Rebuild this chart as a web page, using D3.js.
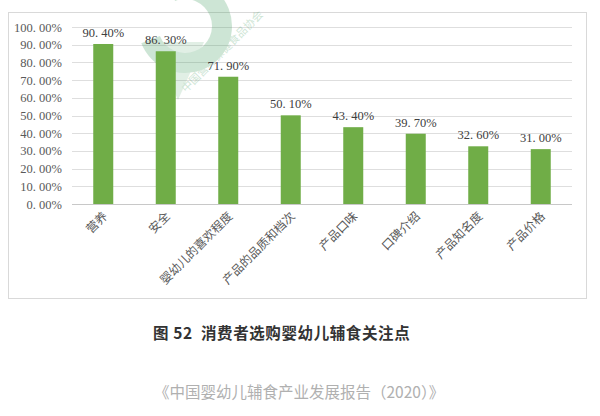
<!DOCTYPE html>
<html><head><meta charset="utf-8">
<script src="https://cdn.jsdelivr.net/npm/d3@7/dist/d3.min.js"></script>
<style>body{margin:0;background:#fff;}svg{display:block;}</style>
</head><body>
<svg id="c" width="600" height="416"></svg>
<script>
const categories = ["营养","安全","婴幼儿的喜欢程度","产品的品质和档次","产品口味","口碑介绍","产品知名度","产品价格"];
const values = [90.4, 86.3, 71.9, 50.1, 43.4, 39.7, 32.6, 31.0];
const yTicks = [0,10,20,30,40,50,60,70,80,90,100];
const title = "图 52  消费者选购婴幼儿辅食关注点";
const source = "《中国婴幼儿辅食产业发展报告（2020）》";

const svg = d3.select("#c");
const serif = "'Liberation Serif','DejaVu Serif',serif";
const cjk = "'Noto Sans CJK SC','Noto Sans',sans-serif";
const fmt = v => d3.format(".2f")(v).replace(".", ". ") + "%";

// outer border
svg.append("rect").attr("x",8.5).attr("y",12.5).attr("width",578).attr("height",286)
  .attr("fill","none").attr("stroke","#d9d9d9");

const m = {l:72, r:572, t:27, b:204};
const x = d3.scaleBand().domain(categories).range([m.l, m.r]).paddingInner(0.68).paddingOuter(0.34);
const y = d3.scaleLinear().domain([0,100]).range([m.b, m.t]);

// gridlines
svg.append("g").selectAll("line").data(yTicks).join("line")
  .attr("x1",m.l).attr("x2",m.r)
  .attr("y1",d=>Math.round(y(d))+0.5).attr("y2",d=>Math.round(y(d))+0.5)
  .attr("stroke",d=>d===0?"#c8c8c8":"#dedede").attr("stroke-width",1);

// y axis labels
const yAxis = d3.axisLeft(y).tickValues(yTicks).tickSize(0).tickPadding(10).tickFormat(fmt);
const ga = svg.append("g").attr("transform",`translate(${m.l},0)`).call(yAxis);
ga.select(".domain").remove();
ga.selectAll("text").attr("font-family",serif).attr("font-size",12.5).attr("fill","#595959");

// watermark
const wm = svg.append("g").attr("opacity",0.25);
wm.append("path").attr("d", d3.arc()({innerRadius:27,outerRadius:47,startAngle:-Math.PI*0.12,endAngle:Math.PI*1.38}))
  .attr("transform","translate(185,26)").attr("fill","#3c9a5a");
wm.append("path").attr("d","M152,42 L204,42 L178,100 Z").attr("fill","#3c9a5a").attr("opacity",0.6);
wm.append("text").attr("transform","translate(186,93) rotate(-45)")
  .attr("font-family",cjk).attr("font-size",11).attr("fill","#3c9a5a").text("中国营养保健食品协会");

// bars
svg.append("g").selectAll("rect").data(values).join("rect")
  .attr("x",(d,i)=>x(categories[i])).attr("width",x.bandwidth())
  .attr("y",d=>y(d)).attr("height",d=>y(0)-y(d))
  .attr("fill","#70ad47");

// value labels
svg.append("g").selectAll("text").data(values).join("text")
  .attr("x",(d,i)=>x(categories[i])+x.bandwidth()/2).attr("y",d=>y(d)-7)
  .attr("text-anchor","middle").attr("font-family",serif).attr("font-size",12.5).attr("fill","#404040")
  .text(d=>fmt(d));

// x axis labels
const xAxis = d3.axisBottom(x).tickSize(0).tickPadding(0);
const gx = svg.append("g").attr("transform",`translate(0,${m.b})`).call(xAxis);
gx.select(".domain").remove();
gx.selectAll("text")
  .attr("font-family",cjk).attr("font-size",12).attr("fill","#595959")
  .attr("text-anchor","end").attr("dy",null).attr("y",0)
  .attr("transform","translate(5,13) rotate(-45)");

// title & source
svg.append("text").attr("x",153).attr("y",339).attr("font-family",cjk).attr("font-size",15.5)
  .attr("font-weight","bold").attr("letter-spacing",0.6).style("white-space","pre")
  .attr("fill","#333").text(title);
svg.append("text").attr("x",154).attr("y",398).attr("font-family",cjk).attr("font-size",15.5)
  .attr("fill","#b0b0b0").text(source);
</script>
</body></html>
